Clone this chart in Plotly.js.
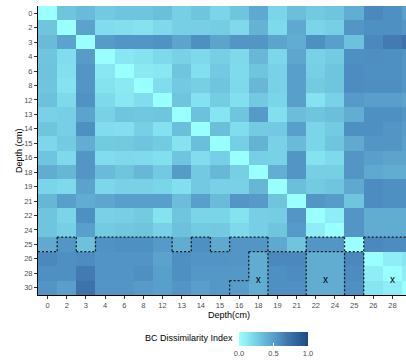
<!DOCTYPE html>
<html>
<head>
<meta charset="utf-8">
<script src="https://cdn.plot.ly/plotly-3.0.1.min.js"></script>
<style>html,body{margin:0;padding:0;background:#fff;}#chart{width:406px;height:360px;}</style>
</head>
<body>
<div id="chart"></div>
<script>
// Depth categories (cm), used for both axes
const depths = ['0','2','3','4','6','8','12','13','14','15','16','18','19','21','22','24','25','26','28','30'];

// Bray-Curtis dissimilarity, rows = y depth (top to bottom), cols = x depth
const row0  = [0.00,0.30,0.35,0.28,0.30,0.30,0.33,0.25,0.30,0.22,0.30,0.45,0.22,0.33,0.28,0.30,0.42,0.62,0.58,0.50];
const row2  = [0.30,0.00,0.48,0.18,0.17,0.15,0.20,0.25,0.25,0.26,0.20,0.40,0.20,0.45,0.22,0.25,0.55,0.58,0.58,0.55];
const row3  = [0.35,0.48,0.00,0.52,0.55,0.55,0.57,0.47,0.58,0.47,0.55,0.55,0.47,0.43,0.58,0.50,0.32,0.62,0.68,0.72];
const row4  = [0.30,0.18,0.52,0.00,0.13,0.15,0.20,0.24,0.20,0.25,0.20,0.37,0.21,0.46,0.24,0.27,0.58,0.59,0.58,0.55];
const row6  = [0.31,0.17,0.55,0.13,0.00,0.12,0.13,0.30,0.17,0.28,0.19,0.30,0.24,0.50,0.25,0.30,0.60,0.58,0.58,0.55];
const row8  = [0.30,0.15,0.55,0.15,0.12,0.00,0.18,0.28,0.25,0.30,0.20,0.37,0.24,0.50,0.27,0.30,0.60,0.59,0.59,0.55];
const row12 = [0.32,0.20,0.57,0.20,0.13,0.18,0.00,0.30,0.16,0.26,0.17,0.28,0.22,0.50,0.15,0.24,0.53,0.50,0.50,0.47];
const row13 = [0.24,0.25,0.47,0.24,0.30,0.29,0.30,0.00,0.32,0.14,0.30,0.53,0.17,0.34,0.30,0.33,0.42,0.58,0.58,0.55];
const row14 = [0.30,0.25,0.58,0.18,0.17,0.25,0.16,0.33,0.00,0.33,0.18,0.27,0.28,0.50,0.22,0.27,0.58,0.58,0.55,0.52];
const row15 = [0.21,0.27,0.42,0.27,0.28,0.30,0.27,0.15,0.33,0.00,0.25,0.40,0.24,0.35,0.22,0.30,0.44,0.55,0.55,0.50];
const row16 = [0.30,0.20,0.55,0.18,0.20,0.19,0.17,0.30,0.18,0.25,0.00,0.25,0.24,0.55,0.15,0.20,0.55,0.50,0.47,0.47];
const row18 = [0.43,0.38,0.55,0.35,0.30,0.37,0.28,0.52,0.28,0.37,0.25,0.00,0.42,0.55,0.25,0.25,0.55,0.45,0.43,0.43];
const row19 = [0.22,0.20,0.48,0.21,0.24,0.24,0.22,0.17,0.28,0.24,0.24,0.38,0.00,0.33,0.27,0.30,0.45,0.60,0.58,0.58];
const row21 = [0.38,0.50,0.43,0.46,0.50,0.50,0.50,0.34,0.50,0.35,0.55,0.53,0.30,0.00,0.55,0.52,0.30,0.60,0.58,0.58];
const row22 = [0.30,0.22,0.58,0.24,0.25,0.27,0.15,0.30,0.22,0.22,0.15,0.25,0.26,0.55,0.00,0.10,0.55,0.43,0.43,0.43];
const row24 = [0.30,0.25,0.50,0.27,0.29,0.30,0.24,0.32,0.27,0.28,0.20,0.25,0.30,0.53,0.10,0.00,0.55,0.43,0.43,0.43];
const row25 = [0.44,0.55,0.32,0.57,0.58,0.58,0.53,0.43,0.58,0.45,0.55,0.55,0.45,0.30,0.55,0.55,0.00,0.62,0.60,0.60];
const row26 = [0.62,0.58,0.60,0.56,0.56,0.56,0.48,0.58,0.56,0.56,0.55,0.43,0.62,0.62,0.43,0.43,0.62,0.00,0.10,0.14];
const row28 = [0.58,0.58,0.68,0.56,0.56,0.58,0.50,0.58,0.54,0.54,0.54,0.43,0.58,0.60,0.43,0.43,0.60,0.10,0.00,0.10];
const row30 = [0.55,0.50,0.72,0.55,0.55,0.52,0.50,0.55,0.50,0.54,0.52,0.43,0.58,0.58,0.43,0.43,0.58,0.14,0.10,0.00];

// Cluster membership of the deepest rows (all shallower rows belong to 'U')
const cl25 = ['U','B','U','B','B','B','B','U','B','U','B','B','U','U','C1','C1','U','E','E','E'];
const cl26 = ['B','B','B','B','B','B','B','B','B','B','B','A','B2','B2','C2','C2','D','E','E','E'];
const cl28 = ['B','B','B','B','B','B','B','B','B','B','B','A','B2','B2','C2','C2','D','E','E','E'];
const cl30 = ['B','B','B','B','B','B','B','B','B','B','A','A','B2','B2','C2','C2','D','E','E','E'];

// 'x' marks (category index positions)
const markX = [11, 14.5, 18];
const markY = [18.5, 18.5, 18.5];

// Colour scale
const csStops  = [0, 0.10, 0.17, 0.25, 0.30, 0.45, 0.55, 0.62, 0.70, 0.85, 1];
const csColors = ['#9affff','#8eedf6','#82dfee','#76cfe5','#6fc5de','#5fa8cf','#5396c6','#4a88bd','#3f76ad','#2e609a','#1d4b88'];

const z = [row0,row2,row3,row4,row6,row8,row12,row13,row14,row15,row16,row18,row19,row21,row22,row24,row25,row26,row28,row30];
const idx = depths.map((d, i) => i);
const colorscale = csStops.map((s, i) => [s, csColors[i]]);

// cluster grid and boundary segments
const deep = [cl25, cl26, cl28, cl30];
const grid = depths.map((d, r) => r < depths.length - 4 ? depths.map(() => 'U') : deep[r - (depths.length - 4)]);
let hs = [], vs = [];
for (let r = 0; r < grid.length; r++) {
  for (let c = 0; c < grid[r].length; c++) {
    if (r + 1 < grid.length && grid[r][c] !== grid[r + 1][c]) hs.push({k: r + 0.5, a: c - 0.5, b: c + 0.5});
    if (c + 1 < grid[r].length && grid[r][c] !== grid[r][c + 1]) vs.push({k: c + 0.5, a: r - 0.5, b: r + 0.5});
  }
}
function merge(segs) {
  segs.sort((p, q) => p.k - q.k || p.a - q.a);
  const out = [];
  segs.forEach(s => {
    const last = out[out.length - 1];
    if (last && last.k === s.k && Math.abs(last.b - s.a) < 1e-9) last.b = s.b;
    else out.push({k: s.k, a: s.a, b: s.b});
  });
  return out;
}
const lineStyle = {color: '#1a1a1a', width: 1.3, dash: '2px,2px'};
const shapes = [];
merge(hs).forEach(s => shapes.push({type: 'line', xref: 'x', yref: 'y', x0: s.a, x1: s.b, y0: s.k, y1: s.k, line: lineStyle, layer: 'above'}));
merge(vs).forEach(s => shapes.push({type: 'line', xref: 'x', yref: 'y', x0: s.k, x1: s.k, y0: s.a, y1: s.b, line: lineStyle, layer: 'above'}));

const FONT = 'Liberation Sans, Arial, sans-serif';
const L = 38, T = 6, W = 406, H = 360, B = 64;
const pw = W - L, ph = H - T - B;
const px2x = p => (p - L) / pw;
const py2y = p => 1 - (p - T) / ph;

const heat = {
  type: 'heatmap', x: idx, y: idx, z: z,
  zmin: 0, zmax: 1, colorscale: colorscale, hoverinfo: 'skip',
  colorbar: {
    orientation: 'h', thickness: 14, thicknessmode: 'pixels',
    len: 69, lenmode: 'pixels',
    x: px2x(239), xanchor: 'left', y: py2y(332), yanchor: 'top',
    xpad: 0, ypad: 0, outlinewidth: 0,
    tickvals: [0, 0.5, 1], ticktext: ['0.0', '0.5', '1.0'],
    ticks: 'inside', ticklen: 3, tickcolor: '#ffffff', tickwidth: 1,
    tickfont: {family: FONT, size: 7.5, color: '#4d4d4d'}
  }
};
const marks = {
  type: 'scatter', mode: 'text', x: markX, y: markY,
  text: markX.map(() => 'x'), textposition: 'middle center',
  textfont: {family: FONT, size: 10, color: '#000'},
  hoverinfo: 'skip', showlegend: false
};

const axisCommon = {
  tickvals: idx, ticktext: depths, ticks: 'outside', ticklen: 3, tickwidth: 1, tickcolor: '#333',
  showline: true, linecolor: '#000', linewidth: 1, showgrid: false, zeroline: false,
  tickfont: {family: FONT, size: 7.5, color: '#4d4d4d'}, fixedrange: true
};

const layout = {
  width: W, height: H,
  margin: {l: L, r: 0, t: T, b: B, pad: 0},
  paper_bgcolor: '#fff', plot_bgcolor: '#fff',
  showlegend: false,
  xaxis: Object.assign({}, axisCommon, {range: [-0.5, -0.5 + pw / 19.16]}),
  yaxis: Object.assign({}, axisCommon, {range: [idx.length - 0.5, -0.5]}),
  shapes: shapes,
  annotations: [
    {text: 'Depth(cm)', xref: 'paper', yref: 'paper', x: px2x(229), y: py2y(316), xanchor: 'center', yanchor: 'middle', showarrow: false, font: {family: FONT, size: 9, color: '#000'}},
    {text: 'Depth (cm)', xref: 'paper', yref: 'paper', x: px2x(18.5), y: py2y(151), xanchor: 'center', yanchor: 'middle', textangle: -90, showarrow: false, font: {family: FONT, size: 9, color: '#000'}},
    {text: 'BC Dissimilarity Index', xref: 'paper', yref: 'paper', x: px2x(235), y: py2y(339), xanchor: 'right', yanchor: 'middle', showarrow: false, font: {family: FONT, size: 9, color: '#000'}}
  ]
};

Plotly.newPlot('chart', [heat, marks], layout, {displayModeBar: false, staticPlot: true});
</script>
</body>
</html>
